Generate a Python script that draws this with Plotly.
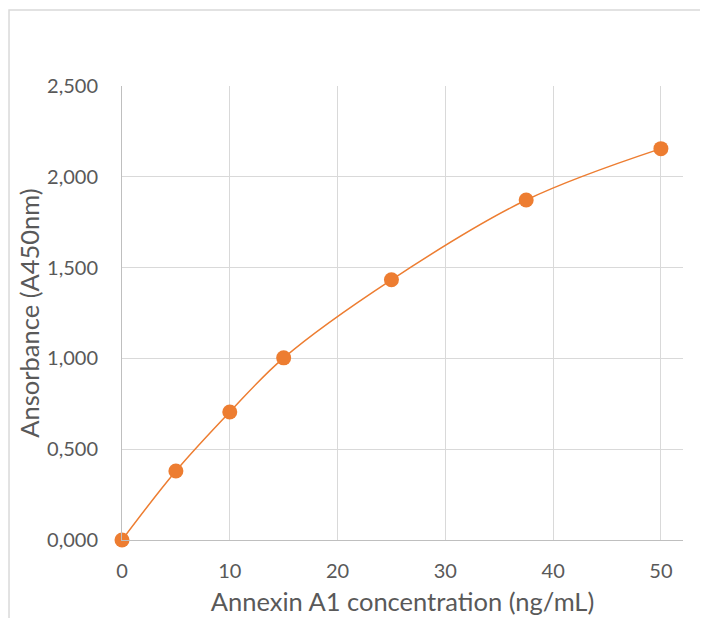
import plotly.graph_objects as go

concentration = [0, 5, 10, 15, 25, 37.5, 50]
absorbance = [0.0, 0.380, 0.705, 1.003, 1.433, 1.872, 2.155]
x_ticks = [0, 10, 20, 30, 40, 50]
y_ticks = [0, 0.5, 1.0, 1.5, 2.0, 2.5]

orange = "#ED7D31"
font_family = "Lato, 'Open Sans', sans-serif"

fig = go.Figure()
fig.add_trace(go.Scatter(
    x=concentration, y=absorbance,
    mode="lines+markers",
    line=dict(color=orange, width=1.5, shape="spline", smoothing=1.0),
    marker=dict(color=orange, size=15),
    showlegend=False,
    cliponaxis=False,
))

fig.update_layout(
    width=708, height=618,
    margin=dict(l=114, r=33, t=78, b=86),
    paper_bgcolor="white", plot_bgcolor="white",
    separators=", ",
    font=dict(family=font_family, color="#595959", size=20),
    xaxis=dict(
        range=[0, 52.05], tickvals=x_ticks,
        showgrid=True, gridcolor="#d9d9d9", gridwidth=1,
        zeroline=False, showline=True, linecolor="#bfbfbf", linewidth=1,
        ticks="outside", ticklen=13, tickcolor="rgba(0,0,0,0)",
        title=dict(text="Annexin A1 concentration (ng/mL)", font=dict(size=25.5, color="#595959"), standoff=12),
    ),
    yaxis=dict(
        range=[0, 2.5], tickvals=y_ticks, tickformat=".3f",
        showgrid=True, gridcolor="#d9d9d9", gridwidth=1,
        zeroline=False, showline=True, linecolor="#bfbfbf", linewidth=1,
        ticks="outside", ticklen=19, tickcolor="rgba(0,0,0,0)",
        title=dict(text="Ansorbance (A450nm)", font=dict(size=25.5, color="#595959"), standoff=0),
    ),
    shapes=[dict(
        type="rect", xref="paper", yref="paper",
        x0=-0.2014, x1=1.2, y0=-0.3, y1=1.1674,
        line=dict(color="#d9d9d9", width=1.5), fillcolor="rgba(0,0,0,0)", layer="below",
    )],
)

fig.write_html("out.html")
